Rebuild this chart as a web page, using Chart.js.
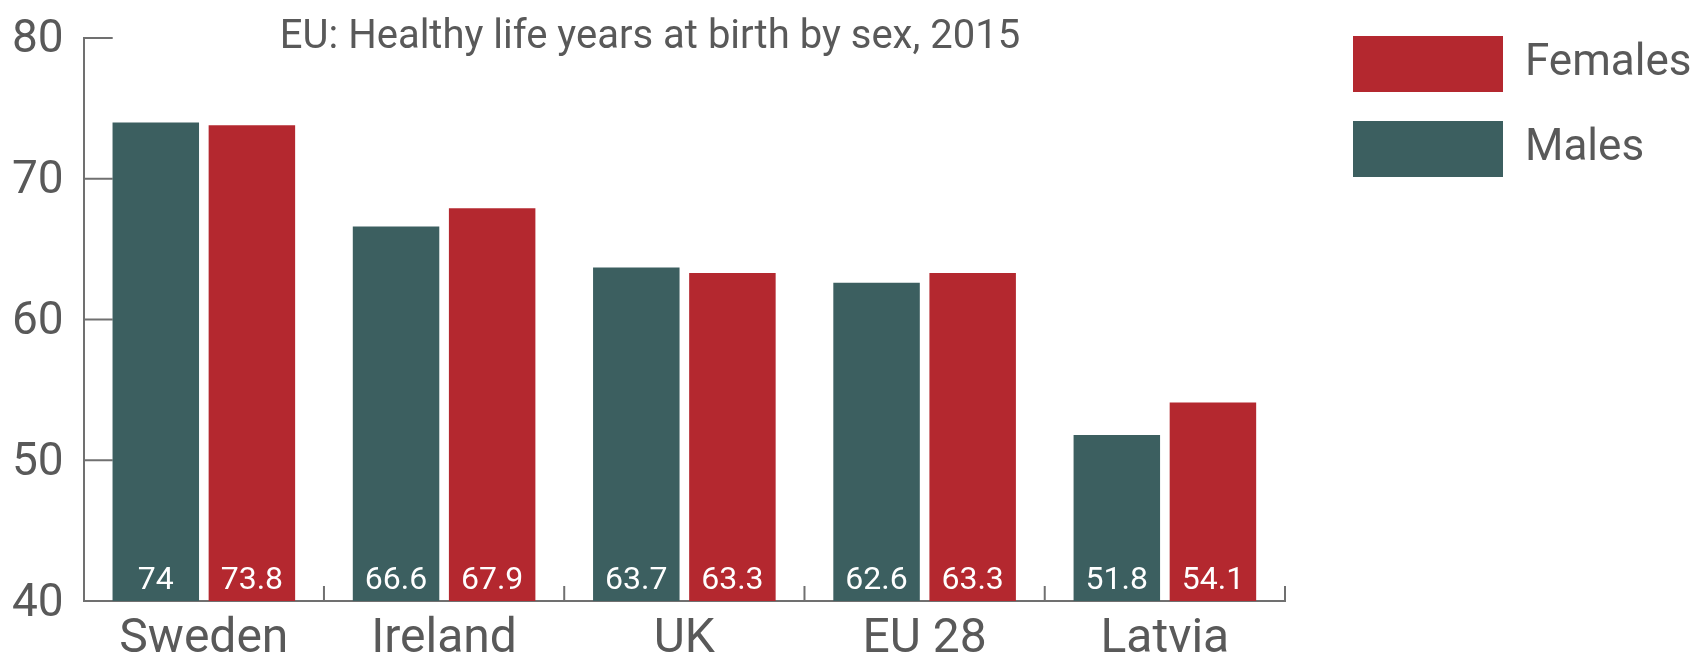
<!DOCTYPE html>
<html>
<head>
<meta charset="utf-8">
<title>EU: Healthy life years at birth by sex, 2015</title>
<script src="https://cdn.jsdelivr.net/npm/chart.js@4.4.1/dist/chart.umd.min.js"></script>
<style>
  html, body { margin: 0; padding: 0; background: #fff; }
</style>
</head>
<body>
<canvas id="chart" width="1691" height="658"></canvas>
<script>
// ---- data ----
const countries = ["Sweden", "Ireland", "UK", "EU 28", "Latvia"];
const males     = [74, 66.6, 63.7, 62.6, 51.8];
const females   = [73.8, 67.9, 63.3, 63.3, 54.1];
const yTicks    = [40, 50, 60, 70, 80];
const titleText = "EU: Healthy life years at birth by sex, 2015";

const FONT = "Roboto, 'Liberation Sans', sans-serif";
const GREY = "#595959";
const AXIS = "#707070";
const RED  = "#b4282f";
const TEAL = "#3c5f60";

// short tick marks drawn inside the plot (y) and above the x axis (category breaks)
const innerTicks = {
  id: "innerTicks",
  beforeDatasetsDraw(chart) {
    const { ctx, chartArea, scales: { x, y } } = chart;
    ctx.save();
    ctx.strokeStyle = AXIS;
    ctx.lineWidth = 2;
    ctx.beginPath();
    yTicks.forEach(v => {
      if (v === y.min) return;
      const py = y.getPixelForValue(v);
      ctx.moveTo(chartArea.left, py);
      ctx.lineTo(chartArea.left + 29, py);
    });
    for (let i = 0; i < countries.length; i++) {
      const px = i < countries.length - 1
        ? (x.getPixelForValue(i) + x.getPixelForValue(i + 1)) / 2
        : chartArea.right;
      ctx.moveTo(px, chartArea.bottom);
      ctx.lineTo(px, chartArea.bottom - 15);
    }
    ctx.stroke();
    ctx.restore();
  }
};

// white value labels at the foot of each bar
const barValues = {
  id: "barValues",
  afterDatasetsDraw(chart) {
    const { ctx, chartArea } = chart;
    ctx.save();
    ctx.fillStyle = "#ffffff";
    ctx.font = "32px " + FONT;
    ctx.textAlign = "center";
    ctx.textBaseline = "middle";
    chart.data.datasets.forEach((ds, di) => {
      chart.getDatasetMeta(di).data.forEach((bar, i) => {
        ctx.fillText(String(ds.data[i]), bar.x, chartArea.bottom - 20);
      });
    });
    ctx.restore();
  }
};

const chartTitle = {
  id: "chartTitle",
  afterDraw(chart) {
    const { ctx } = chart;
    ctx.save();
    ctx.fillStyle = GREY;
    ctx.font = "40px " + FONT;
    ctx.textAlign = "center";
    ctx.textBaseline = "middle";
    ctx.fillText(titleText, 650, 38);
    ctx.restore();
  }
};

new Chart(document.getElementById("chart"), {
  type: "bar",
  data: {
    labels: countries,
    datasets: [
      { label: "Males",   data: males,   backgroundColor: TEAL },
      { label: "Females", data: females, backgroundColor: RED }
    ]
  },
  options: {
    responsive: false,
    animation: false,
    layout: { padding: { top: 7, right: 0, bottom: 0, left: -8 } },
    plugins: {
      title: { display: false },
      tooltip: { enabled: false },
      legend: {
        position: "right",
        align: "start",
        reverse: true,
        maxWidth: 367,
        labels: {
          boxWidth: 150,
          boxHeight: 56,
          padding: 29,
          color: GREY,
          font: { family: FONT, size: 44 }
        }
      }
    },
    scales: {
      x: {
        grid: { display: false, drawTicks: false },
        border: { display: true, color: AXIS, width: 2 },
        ticks: { color: GREY, padding: 5, font: { family: FONT, size: 48, lineHeight: 1.4 } },
        afterFit: s => { s.height = 57; }
      },
      y: {
        min: 40,
        max: 80,
        afterBuildTicks: s => { s.ticks = yTicks.map(v => ({ value: v })); },
        grid: { display: false, drawTicks: false },
        border: { display: true, color: AXIS, width: 2 },
        ticks: { color: GREY, padding: 20, labelOffset: 3, font: { family: FONT, size: 46, lineHeight: 0.78 } }
      },
      gap: {
        type: "linear",
        position: "right",
        grid: { display: false, drawTicks: false },
        border: { display: false },
        ticks: { display: false },
        afterFit: s => { s.width = 39; }
      }
    }
  },
  plugins: [innerTicks, barValues, chartTitle]
});
</script>
</body>
</html>
